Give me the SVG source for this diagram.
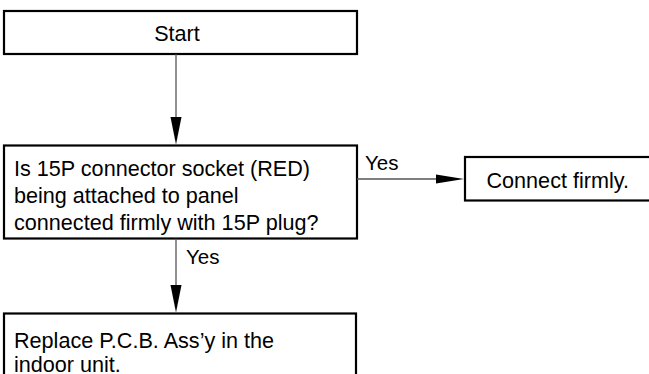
<svg xmlns="http://www.w3.org/2000/svg" width="649" height="374" viewBox="0 0 649 374">
<defs>
<style>
.box{fill:#fff;stroke:#000;stroke-width:2.2}
.t{font-family:"Liberation Sans",Arial,sans-serif;font-size:21.6px;fill:#000}
.lbl{font-family:"Liberation Sans",Arial,sans-serif;font-size:20.5px;fill:#000}
.ln{stroke:#555;stroke-width:1.3;fill:none}
.ah{fill:#000}
</style>
</defs>
<rect width="649" height="374" fill="#fff"/>
<g id="start">
<rect class="box" x="4" y="11" width="353" height="43"/>
<text class="t" x="177" y="40.5" text-anchor="middle">Start</text>
</g>
<g id="decision">
<rect class="box" x="4" y="145.5" width="353" height="93"/>
<text class="t" x="14" y="175.5">Is 15P connector socket (RED)</text>
<text class="t" x="14" y="202.5">being attached to panel</text>
<text class="t" x="14" y="229.5">connected firmly with 15P plug?</text>
</g>
<g id="connect">
<rect class="box" x="465" y="157" width="190" height="43.5"/>
<text class="t" x="486.5" y="188">Connect firmly.</text>
</g>
<g id="replace">
<rect class="box" x="4" y="313.5" width="352" height="70"/>
<text class="t" x="14" y="347.5">Replace P.C.B. Ass’y in the</text>
<text class="t" x="14" y="372">indoor unit.</text>
</g>
<g id="connectors">
<line class="ln" x1="176" y1="54" x2="176" y2="120"/>
<polygon class="ah" points="170.5,117 181.5,117 176,144.5"/>
<line class="ln" x1="357" y1="179" x2="440" y2="179"/>
<polygon class="ah" points="436,174.5 436,183.5 464,179"/>
<text class="lbl" x="365" y="170">Yes</text>
<line class="ln" x1="176" y1="238.5" x2="176" y2="288"/>
<polygon class="ah" points="170.5,285 181.5,285 176,312.5"/>
<text class="lbl" x="186" y="264">Yes</text>
</g>
</svg>
